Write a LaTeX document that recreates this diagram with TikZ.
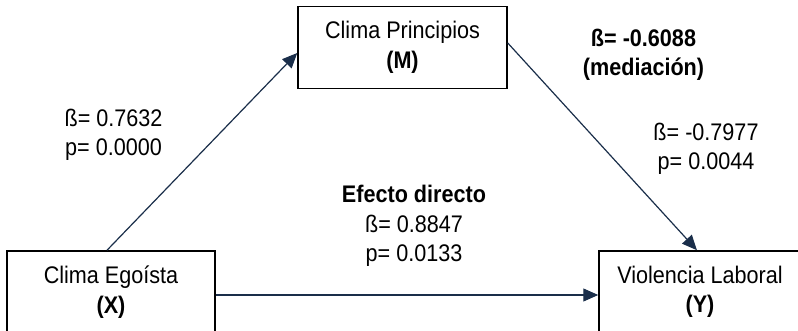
\documentclass[tikz,border=0pt]{standalone}
\usepackage{fontspec}
\setmainfont[FakeStretch=0.9]{Liberation Sans}
\usepackage{xcolor}
\usepackage{tikz}
\usetikzlibrary{calc,arrows.meta}
\definecolor{arrownavy}{HTML}{1A2E4A}
\tikzset{
varbox/.style={draw=black, line width=0.75pt, minimum width=#1, minimum height=41pt,
  inner sep=0pt, align=center, font=\fontsize{12}{14.75}\selectfont},
varbox/.default=104pt,
coef/.style={align=center, inner sep=0pt, font=\fontsize{12}{14.75}\selectfont},
link/.style={draw=arrownavy, line width=0.6pt,
  -{Triangle[length=7.5pt,width=6.5pt]}, arrownavy}
}

\begin{document}
\begin{tikzpicture}[x=0.5pt, y=0.5pt]
\useasboundingbox (0, 0) rectangle (798, 331);
\node[varbox=104.5pt] at (402.5, 283.5) (M) {Clima Principios\\\textbf{(M)}};
\node[varbox=104pt]   at (111, 39)      (X) {Clima Egoísta\\\textbf{(X)}};
\node[varbox=101pt]   at (700, 39)      (Y) {Violencia Laboral\\\textbf{(Y)}};
\node[coef] at (113.5, 196) (cXM) {ß= 0.7632\\p= 0.0000};
\node[coef] at (706, 182)   (cMY) {ß= -0.7977\\p= 0.0044};
\node[coef] at (643.5, 276) (cmed) {\textbf{ß= -0.6088}\\\textbf{(mediación)}};
\node[coef] at (414, 105)   (cXY) {\textbf{Efecto directo}\\ß= 0.8847\\p= 0.0133};
\draw[link] ([xshift=-2pt]X.north) -- ([yshift=-2.75pt]M.west);
\draw[link] ([yshift=2.25pt]M.east) -- ([xshift=-1.5pt]Y.north);
\draw[link] ([yshift=-1.5pt]X.east) -- ([yshift=-1.5pt]Y.west);
\end{tikzpicture}
\end{document}
